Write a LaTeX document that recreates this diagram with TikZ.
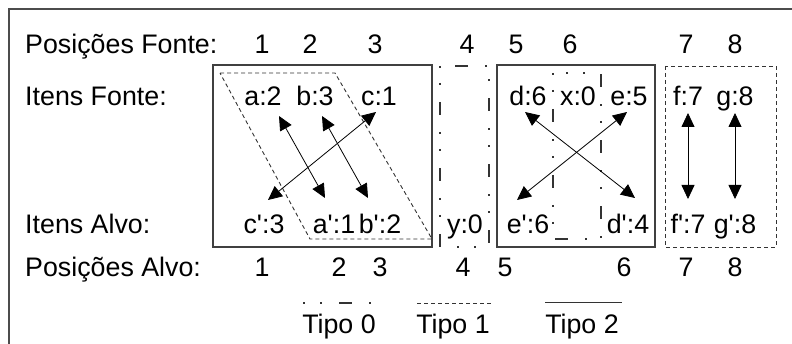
\documentclass[tikz,border=0pt]{standalone}
\usepackage{fontspec}
\setmainfont{Liberation Sans}[Ligatures=TeXOff]
\usetikzlibrary{arrows.meta}
\begin{document}
\begin{tikzpicture}[x=1pt,y=-1pt,
  txt/.style={font=\fontsize{26.8}{31}\selectfont, inner sep=0pt, anchor=base},
  lbl/.style={txt, anchor=base west},
  solidbox/.style={draw=black!75, line width=1.2pt},
  tipozero/.style={draw=black!80, line width=1.2pt, dash pattern=on 2pt off 15pt on 2pt off 17pt on 13pt off 17pt},
  tipoone/.style={draw=black!80, line width=0.9pt, dash pattern=on 4pt off 3pt},
  link/.style={line width=0.8pt, {Triangle[length=14pt,width=13pt]}-{Triangle[length=14pt,width=13pt]}}
]
\clip (0,0) rectangle (792,344);
\useasboundingbox (0,0) rectangle (792,344);
% outer frame
\draw[line width=1.5pt, black!70] (9,9) rectangle (820,380);
% row labels
\node[lbl] (pf) at (25,54) {Posições Fonte:};
\node[lbl] (itf) at (25,106) {Itens Fonte:};
\node[lbl] (ita) at (25,234) {Itens Alvo:};
\node[lbl] (pa) at (25,277) {Posições Alvo:};
% source positions
\foreach \n/\x in {1/262,2/310,3/375,4/467,5/516,6/570,7/686,8/735}
  \node[txt] (ps\n) at (\x,54) {\n};
% target positions
\foreach \n/\x in {1/262,2/339,3/380,4/463,5/505,6/624,7/686,8/735}
  \node[txt] (pt\n) at (\x,277) {\n};
% boxes
\draw[solidbox] (213,65) rectangle (432,247);
\draw[tipoone] (220,73) -- (335,73) -- (432,239) -- (310,239) -- cycle;
\draw[tipozero] (440,66) rectangle (489,247);
\draw[solidbox] (497,65) rectangle (655,247);
\draw[tipozero] (553,73) rectangle (601,239);
\draw[tipoone] (665,66) rectangle (776,247);
% source items
\node[txt] (a) at (263,106) {a:2};
\node[txt] (b) at (315,106) {b:3};
\node[txt] (c) at (379,106) {c:1};
\node[txt] (d) at (528,106) {d:6};
\node[txt] (x) at (578,106) {x:0};
\node[txt] (e) at (629,106) {e:5};
\node[txt] (f) at (688,106) {f:7};
\node[txt] (g) at (735,106) {g:8};
% target items
\node[txt] (c') at (264,234) {c':3};
\node[txt] (a') at (334,234) {a':1};
\node[txt] (b') at (380,234) {b':2};
\node[txt] (y) at (465,234) {y:0};
\node[txt] (e') at (528,234) {e':6};
\node[txt] (d') at (628,234) {d':4};
\node[txt] (f') at (688,234) {f':7};
\node[txt] (g') at (735,234) {g':8};
% arrow end points
\coordinate (a1) at (279,116); \coordinate (a2) at (325,198);
\coordinate (b1) at (322,116); \coordinate (b2) at (368,198);
\coordinate (c1) at (376,112); \coordinate (c2) at (268,200);
\coordinate (d1) at (525,112); \coordinate (d2) at (635,198);
\coordinate (e1) at (627,112); \coordinate (e2) at (517,200);
\coordinate (f1) at (688,113); \coordinate (f2) at (688,199);
\coordinate (g1) at (735,113); \coordinate (g2) at (735,199);
\foreach \p in {a,b,c,d,e,f,g}
  \draw[link] (\p1) -- (\p2);
% legend
\coordinate (l0a) at (303,303); \coordinate (l0b) at (371,303);
\coordinate (l1a) at (417,303); \coordinate (l1b) at (493,303);
\coordinate (l2a) at (545,303); \coordinate (l2b) at (622,303);
\draw[tipozero] (l0a) -- (l0b);
\draw[tipoone] (l1a) -- (l1b);
\draw[line width=1pt, black!80] (l2a) -- (l2b);
\node[txt] (t0) at (339,334) {Tipo 0};
\node[txt] (t1) at (453,334) {Tipo 1};
\node[txt] (t2) at (582,334) {Tipo 2};
\end{tikzpicture}
\end{document}
